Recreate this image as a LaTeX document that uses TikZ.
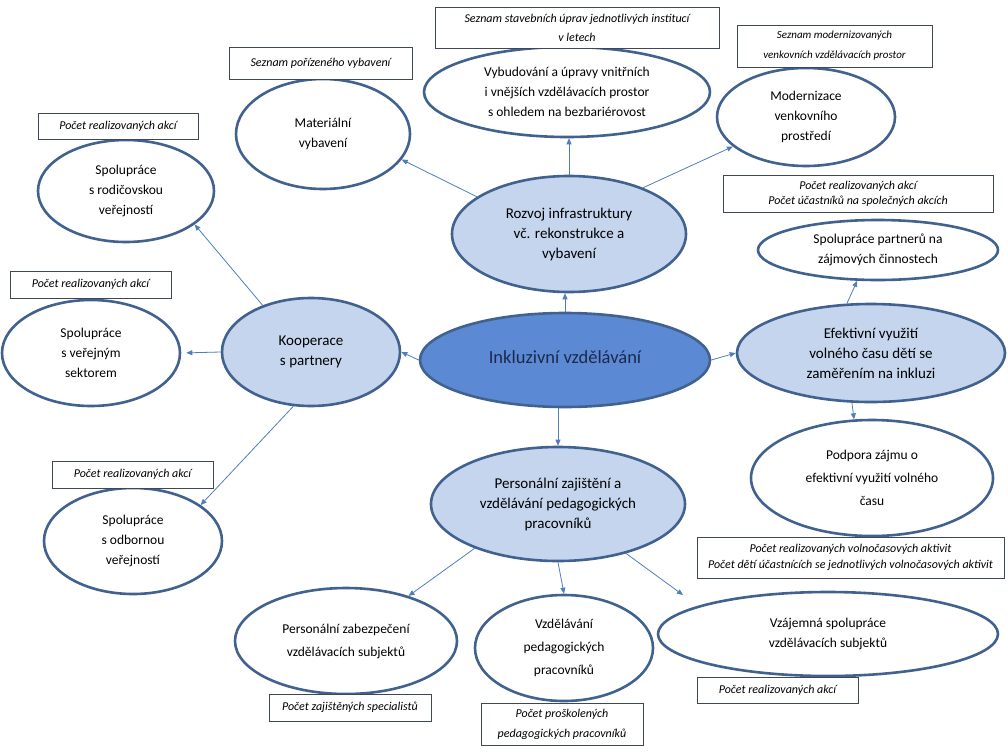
\documentclass[tikz,border=0pt]{standalone}
\usepackage{fontspec}
\setmainfont{Carlito}
\usetikzlibrary{shapes.geometric,arrows.meta,calc}
\definecolor{ringc}{HTML}{41628F}
\definecolor{lightfill}{HTML}{C5D5EE}
\definecolor{midfill}{HTML}{5B89D3}
\definecolor{arrc}{HTML}{4F7EBB}
\definecolor{boxc}{HTML}{3E4756}
\definecolor{navy}{HTML}{1C2A4A}
\begin{document}
\begin{tikzpicture}[x=1pt,y=-1pt,
  ell/.style={ellipse, draw=ringc, line width=2.6pt, inner sep=0pt, align=center,
    font=\fontsize{13.5}{20}\selectfont},
  mainell/.style={ell, fill=lightfill, font=\fontsize{15}{20}\selectfont},
  leafell/.style={ell, fill=white},
  infobox/.style={draw=boxc, line width=0.8pt, inner sep=0pt, align=center, fill=white,
    font=\itshape\fontsize{12}{19}\selectfont},
  arr/.style={draw=arrc, line width=0.8pt, -{Triangle[length=6pt,width=5pt]}}]
\useasboundingbox (0,0) rectangle (1008,752);

% central
\node[ell, fill=midfill, minimum width=290, minimum height=94, font=\fontsize{18.5}{22}\selectfont, text=navy] (cen) at (565,360) {\raisebox{5pt}{Inkluzivní vzdělávání}};

% main branches
\node[mainell, minimum width=234, minimum height=116] (roz) at (569,234) {Rozvoj infrastruktury\\vč. rekonstrukce a\\vybavení};
\node[mainell, minimum width=178, minimum height=108] (koo) at (311,352) {Kooperace\\s partnery};
\node[mainell, minimum width=268, minimum height=98] (efe) at (871,353) {Efektivní využití\\volného času dětí se\\zaměřením na inkluzi};
\node[mainell, minimum width=254, minimum height=114] (per) at (558,504) {Personální zajištění a\\vzdělávání pedagogických\\pracovníků};

% leaves
\node[leafell, minimum width=174, minimum height=110] (mat) at (323,134) {Materiální\\vybavení};
\node[leafell, minimum width=286, minimum height=90] (vyb) at (567,92) {Vybudování a úpravy vnitřních\\i vnějších vzdělávacích prostor\\s ohledem na bezbariérovost};
\node[leafell, minimum width=178, minimum height=98] (mod) at (806,117) {Modernizace\\venkovního\\prostředí};
\node[leafell, minimum width=176, minimum height=102] (rod) at (126,191) {Spolupráce\\s rodičovskou\\veřejností};
\node[leafell, minimum width=178, minimum height=106] (ver) at (91,353) {Spolupráce\\s veřejným\\sektorem};
\node[leafell, minimum width=178, minimum height=106] (odb) at (133,541) {Spolupráce\\s odbornou\\veřejností};
\node[leafell, minimum width=240, minimum height=60] (par) at (878,250) {Spolupráce partnerů na\\zájmových činnostech};
\node[leafell, minimum width=242, minimum height=116, font=\fontsize{13.5}{23}\selectfont] (pod) at (872,478) {Podpora zájmu o\\efektivní využití volného\\času};
\node[leafell, minimum width=222, minimum height=106, font=\fontsize{13.5}{23}\selectfont] (zab) at (346,641) {Personální zabezpečení\\vzdělávacích subjektů};
\node[leafell, minimum width=178, minimum height=106, font=\fontsize{13.5}{23}\selectfont] (vzd) at (564,648) {Vzdělávání\\pedagogických\\pracovníků};
\node[leafell, minimum width=340, minimum height=84] (vza) at (828,634) {Vzájemná spolupráce\\vzdělávacích subjektů};

% info boxes
\node[infobox, minimum width=284, minimum height=41] (bvyb) at (577,27.5) {Seznam stavebních úprav jednotlivých institucí\\v letech};
\node[infobox, minimum width=195, minimum height=42, font=\itshape\fontsize{11}{20}\selectfont] (bmod) at (834.5,46) {Seznam modernizovaných\\venkovních vzdělávacích prostor};
\node[infobox, minimum width=183, minimum height=32] (bmat) at (320.5,63) {Seznam pořízeného vybavení};
\node[infobox, minimum width=160, minimum height=26] (brod) at (118,126) {Počet realizovaných akcí};
\node[infobox, minimum width=161, minimum height=27] (bver) at (90.5,284.5) {Počet realizovaných akcí};
\node[infobox, minimum width=161, minimum height=27] (bodb) at (132.5,474.5) {Počet realizovaných akcí};
\node[infobox, minimum width=270, minimum height=37, font=\itshape\fontsize{12}{15}\selectfont] (bpar) at (858,193.5) {Počet realizovaných akcí\\Počet účastníků na společných akcích};
\node[infobox, minimum width=307, minimum height=41, font=\itshape\fontsize{12}{16}\selectfont] (bpod) at (850.5,557.5) {Počet realizovaných volnočasových aktivit\\Počet dětí účastnících se jednotlivých volnočasových aktivit};
\node[infobox, minimum width=162, minimum height=27] (bzab) at (350,707.5) {Počet zajištěných specialistů};
\node[infobox, minimum width=162, minimum height=42, font=\itshape\fontsize{12}{20}\selectfont] (bvzd) at (562,724) {Počet proškolených\\pedagogických pracovníků};
\node[infobox, minimum width=161, minimum height=26] (bvza) at (777.5,690) {Počet realizovaných akcí};

% free arrow ends
\coordinate (vzatip) at (683,595);

% connectors
\draw[arr] (cen.north) -- (cen.north |- roz.south);
\draw[arr] (cen.west) -- (koo.east);
\draw[arr] (cen.east) -- (efe.west);
\draw[arr] (per.north |- cen.south) -- (per.north);

\draw[arr] (roz.158) -- (mat.342);
\draw[arr] (roz.north) -- (roz.north |- vyb.south);
\draw[arr] (roz.32) -- (mod.202);

\draw[arr] (koo.136) -- (rod.334);
\draw[arr, shorten >=5pt] (koo.west) -- (ver.east);
\draw[arr] (koo.252) -- (odb.28);

\draw[arr] (efe.116) -- (par.236);
\draw[arr] (efe.249) -- (pod.107);

\draw[arr] (per.208) -- (zab);
\draw[arr] (per.south) -- (vzd.north);
\draw[arr] (per.324) -- (vzatip);
\end{tikzpicture}
\end{document}
